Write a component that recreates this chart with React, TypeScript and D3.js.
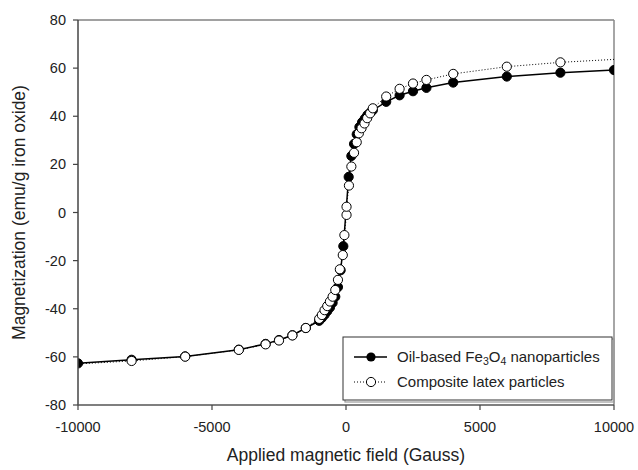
import React from "react";
import * as d3 from "d3";

// Oil-based Fe3O4 nanoparticles (filled circles, solid line)
const fieldOil = [-10000, -8000, -6000, -4000, -3000, -2500, -2000, -1500, -1000, -900, -800, -700, -600, -500, -400, -300, -200, -100, 100, 200, 300, 400, 500, 600, 700, 800, 900, 1000, 1500, 2000, 2500, 3000, 4000, 6000, 8000, 10000];
const magOil = [-62.7, -61.2, -59.8, -57.0, -54.6, -53.0, -51.0, -48.0, -45.0, -43.8, -42.5, -41.0, -39.5, -37.5, -35.0, -31.0, -24.0, -14.0, 14.8, 23.5, 28.5, 32.5, 35.5, 37.5, 39.0, 40.5, 41.5, 42.5, 46.0, 48.7, 50.4, 51.8, 54.0, 56.5, 58.1, 59.2];

// Composite latex particles (open circles, dotted line)
const fieldLatex = [-10600, -8000, -6000, -4000, -3000, -2500, -2000, -1500, -1000, -900, -800, -700, -600, -500, -400, -300, -230, -120, -60, 20, 20, 110, 200, 300, 400, 480, 580, 690, 790, 900, 1000, 1500, 2000, 2500, 3000, 4000, 6000, 8000, 10600];
const magLatex = [-63.3, -61.7, -59.9, -57.1, -54.8, -53.2, -51.1, -48.0, -44.2, -42.6, -40.6, -38.9, -37.0, -35.0, -32.2, -28.0, -23.6, -17.7, -9.4, -1.0, 2.4, 11.2, 19.1, 24.8, 29.2, 32.9, 35.0, 37.0, 39.2, 41.2, 43.3, 48.2, 51.4, 53.6, 55.1, 57.6, 60.6, 62.4, 64.0];

const xTicks = [-10000, -5000, 0, 5000, 10000];
const yTicks = [-80, -60, -40, -20, 0, 20, 40, 60, 80];

const FONT = "'Liberation Sans', Arial, sans-serif";

export default function App() {
  const left = 78, right = 614, top = 20, bottom = 405;
  const x = d3.scaleLinear().domain([-10000, 10000]).range([left, right]);
  const y = d3.scaleLinear().domain([-80, 80]).range([bottom, top]);

  const oil = fieldOil.map((f, i) => [f, magOil[i]] as [number, number]);
  const latex = fieldLatex.map((f, i) => [f, magLatex[i]] as [number, number]);
  const line = d3.line<[number, number]>().x(d => x(d[0])).y(d => y(d[1]));

  const r = 4.6;
  const legX1 = 354, legX2 = 387, legMX = 371;

  return (
    <svg width={638} height={470} style={{ position: "absolute", left: 0, top: 0, background: "#fff" }} fontFamily={FONT}>
      <defs>
        <clipPath id="plotClip">
          <rect x={left} y={top - 10} width={right - left} height={bottom - top + 20} />
        </clipPath>
      </defs>
      <rect x={0} y={0} width={638} height={470} fill="#fff" />

      {/* frame */}
      <line x1={left} x2={right} y1={top} y2={top} stroke="#444" strokeWidth={1.2} />
      <line x1={right} x2={right} y1={top} y2={bottom} stroke="#888" strokeWidth={1.5} />

      {/* data */}
      <g clipPath="url(#plotClip)">
        <path d={line(oil) || ""} fill="none" stroke="#000" strokeWidth={1.5} />
        <path d={line(latex) || ""} fill="none" stroke="#000" strokeWidth={1} strokeDasharray="1,2" />
        {oil.map((d, i) => (
          <circle key={"o" + i} cx={x(d[0])} cy={y(d[1])} r={r} fill="#000" stroke="#000" strokeWidth={1} />
        ))}
        {latex.map((d, i) => (
          <circle key={"l" + i} cx={x(d[0])} cy={y(d[1])} r={r} fill="#fff" stroke="#000" strokeWidth={1} />
        ))}
      </g>

      {/* axes */}
      <line x1={left} x2={left} y1={top} y2={bottom} stroke="#444" strokeWidth={1.5} />
      <line x1={left} x2={right} y1={bottom} y2={bottom} stroke="#555" strokeWidth={1.5} />
      {yTicks.map(t => (
        <g key={"y" + t}>
          <line x1={left - 5} x2={left} y1={y(t)} y2={y(t)} stroke="#444" strokeWidth={1.2} />
          <text x={left - 12} y={y(t)} dy="0.35em" textAnchor="end" fontSize={14.5} fill="#222">{t}</text>
        </g>
      ))}
      {xTicks.map(t => (
        <g key={"x" + t}>
          <line x1={x(t)} x2={x(t)} y1={bottom} y2={bottom + 5} stroke="#444" strokeWidth={1.2} />
          <text x={x(t)} y={432} textAnchor="middle" fontSize={14.5} fill="#222">{t}</text>
        </g>
      ))}

      {/* axis titles */}
      <text x={346} y={461} textAnchor="middle" fontSize={17.5} fill="#222">Applied magnetic field (Gauss)</text>
      <text transform={`translate(25,${y(0)}) rotate(-90)`} textAnchor="middle" fontSize={17.5} fill="#222">Magnetization (emu/g iron oxide)</text>

      {/* legend */}
      <rect x={345} y={339} width={269} height={63} fill="none" stroke="#999" strokeWidth={1.2} />
      <rect x={343} y={337} width={269} height={63} fill="#fff" stroke="#333" strokeWidth={1} />
      <line x1={legX1} x2={legX2} y1={357} y2={357} stroke="#000" strokeWidth={1.5} />
      <circle cx={legMX} cy={357} r={r} fill="#000" />
      <text x={397} y={357} dy="0.35em" fontSize={15} fill="#222">
        Oil-based Fe<tspan dy="3" fontSize={10.5}>3</tspan><tspan dy="-3">O</tspan><tspan dy="3" fontSize={10.5}>4</tspan><tspan dy="-3"> nanoparticles</tspan>
      </text>
      <line x1={legX1} x2={legX2} y1={382} y2={382} stroke="#000" strokeWidth={1} strokeDasharray="1,2" />
      <circle cx={legMX} cy={382} r={r} fill="#fff" stroke="#000" strokeWidth={1} />
      <text x={397} y={382} dy="0.35em" fontSize={15} fill="#222">Composite latex particles</text>
    </svg>
  );
}
